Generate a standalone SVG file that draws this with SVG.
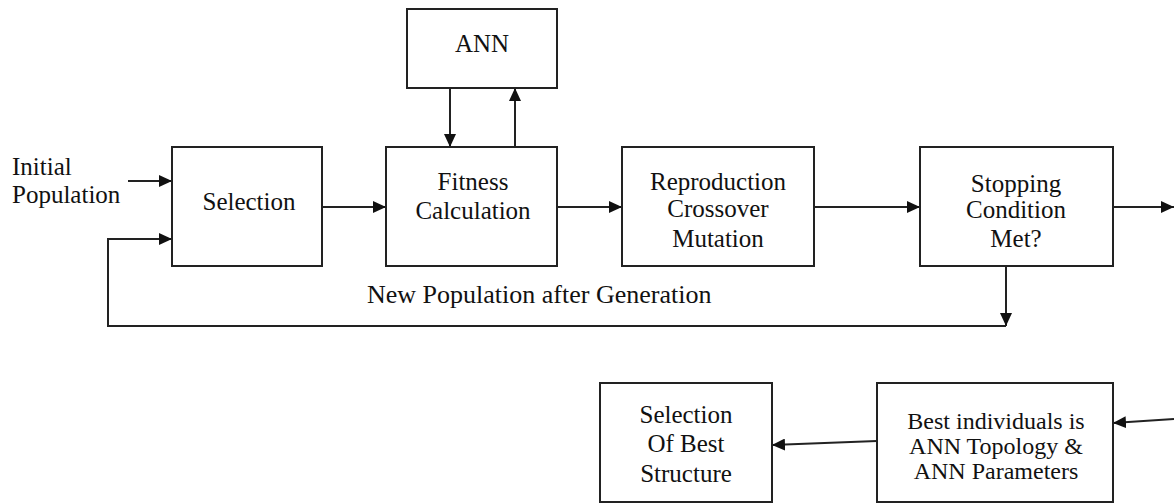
<svg xmlns="http://www.w3.org/2000/svg" width="1174" height="504" viewBox="0 0 1174 504">
<style>
  .box { fill: #ffffff; stroke: #222; stroke-width: 2; }
  .t { font-family: "Liberation Serif", "Times New Roman", serif; font-size: 25px; fill: #111; text-anchor: middle; }
  .ts { font-family: "Liberation Serif", "Times New Roman", serif; font-size: 24px; fill: #111; text-anchor: middle; }
  .tl { font-family: "Liberation Serif", "Times New Roman", serif; font-size: 25px; fill: #111; }
  .tb { font-family: "Liberation Serif", "Times New Roman", serif; font-size: 26px; fill: #111; }
  .ca { fill: none; stroke: #222; stroke-width: 2; marker-end: url(#ah); }
</style>
<defs>
  <marker id="ah" markerUnits="userSpaceOnUse" markerWidth="13" markerHeight="12" refX="13" refY="6" orient="auto">
    <path d="M0,0 L13,6 L0,12 z" fill="#111"/>
  </marker>
</defs>
<rect width="1174" height="504" fill="#ffffff"/>

<g id="connectors">
  <line class="ca" x1="128" y1="181" x2="172" y2="181"/>
  <line class="ca" x1="322" y1="207" x2="386" y2="207"/>
  <line class="ca" x1="450" y1="88" x2="450" y2="147"/>
  <line class="ca" x1="515" y1="151" x2="515" y2="88"/>
  <line class="ca" x1="557" y1="207" x2="622" y2="207"/>
  <line class="ca" x1="814" y1="207" x2="920" y2="207"/>
  <line class="ca" x1="1113" y1="207" x2="1174" y2="207"/>
  <line class="ca" x1="1006" y1="266" x2="1006" y2="326"/>
  <polyline class="ca" points="1006,326 108,326 108,239 172,239"/>
  <line class="ca" x1="1174" y1="419" x2="1113" y2="423"/>
  <line class="ca" x1="877" y1="441" x2="772" y2="445"/>
  <text class="tb" x="367" y="303">New Population after Generation</text>
</g>

<g id="initial-population">
  <text class="tl" x="12" y="175">Initial</text>
  <text class="tl" x="12" y="203">Population</text>
</g>

<g id="ann">
  <rect class="box" x="407" y="9" width="150" height="79"/>
  <text class="t" x="482" y="52">ANN</text>
</g>

<g id="selection">
  <rect class="box" x="172" y="147" width="150" height="119"/>
  <text class="t" x="249" y="210">Selection</text>
</g>

<g id="fitness">
  <rect class="box" x="386" y="147" width="171" height="119"/>
  <text class="t" x="473" y="190">Fitness</text>
  <text class="t" x="473" y="219">Calculation</text>
</g>

<g id="reproduction">
  <rect class="box" x="622" y="147" width="192" height="119"/>
  <text class="t" x="718" y="190">Reproduction</text>
  <text class="t" x="718" y="217">Crossover</text>
  <text class="t" x="718" y="247">Mutation</text>
</g>

<g id="stopping">
  <rect class="box" x="920" y="147" width="193" height="119"/>
  <text class="t" x="1016" y="192">Stopping</text>
  <text class="t" x="1016" y="218">Condition</text>
  <text class="t" x="1016" y="247">Met?</text>
</g>

<g id="best-individuals">
  <rect class="box" x="877" y="383" width="236" height="119"/>
  <text class="ts" x="996" y="429">Best individuals is</text>
  <text class="ts" x="996" y="454">ANN Topology &amp;</text>
  <text class="ts" x="996" y="479">ANN Parameters</text>
</g>

<g id="selection-best">
  <rect class="box" x="600" y="383" width="172" height="119"/>
  <text class="t" x="686" y="423">Selection</text>
  <text class="t" x="686" y="452">Of Best</text>
  <text class="t" x="686" y="482">Structure</text>
</g>
</svg>
